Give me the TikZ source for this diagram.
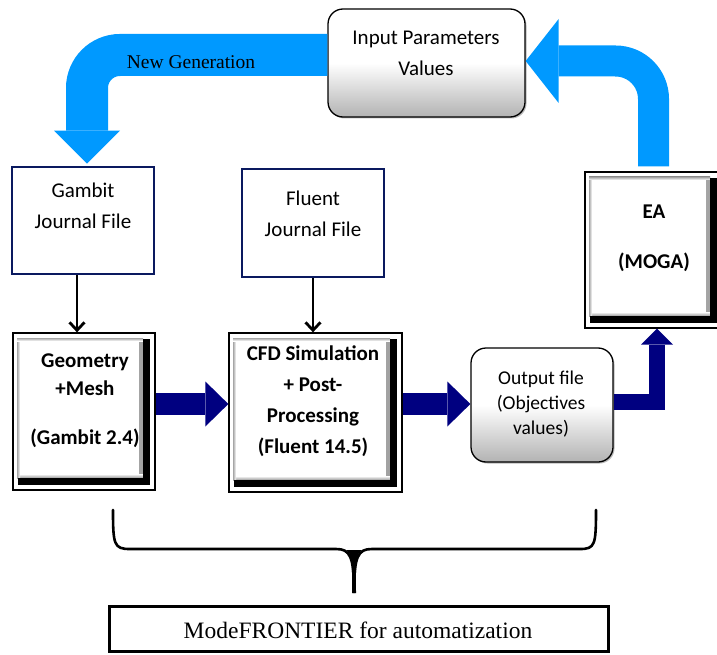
\documentclass[tikz,border=0pt]{standalone}
\usepackage{fontspec}
\setmainfont{Carlito}
\newfontfamily\timesf{Liberation Serif}
\usetikzlibrary{arrows.meta,calc,shadows}
\definecolor{skyarr}{RGB}{0,153,255}
\definecolor{navyarr}{RGB}{0,0,128}
\definecolor{boxblue}{RGB}{10,25,95}
\pgfdeclareverticalshading{btnshade}{100bp}{color(0bp)=(black!30); color(25bp)=(black!30); color(50bp)=(white); color(100bp)=(white)}
\tikzset{
  plainbox/.style={draw=boxblue, line width=2.6pt, fill=white},
  bevelbox/.style={draw=black, line width=1.3pt, fill=white,
    path picture={
      \shade[left color=white, right color=black!40]
        ([xshift=-16pt,yshift=12pt]path picture bounding box.south east) rectangle
        ([xshift=-12pt,yshift=-6pt]path picture bounding box.north east);
      \shade[top color=white, bottom color=black!40]
        ([xshift=5pt,yshift=12pt]path picture bounding box.south west) rectangle
        ([xshift=-12pt,yshift=16pt]path picture bounding box.south east);
      \shade[left color=black!35, right color=white]
        ([xshift=4pt,yshift=12pt]path picture bounding box.south west) rectangle
        ([xshift=7pt,yshift=-5pt]path picture bounding box.north west);
      \shade[top color=black!35, bottom color=white]
        ([xshift=4pt,yshift=-5pt]path picture bounding box.north west) rectangle
        ([xshift=-12pt,yshift=-8pt]path picture bounding box.north east);
      \fill[black]
        ([xshift=-12pt,yshift=5pt]path picture bounding box.south east) rectangle
        ([xshift=-5pt,yshift=-6pt]path picture bounding box.north east);
      \fill[black]
        ([xshift=5pt,yshift=5pt]path picture bounding box.south west) rectangle
        ([xshift=-5pt,yshift=12pt]path picture bounding box.south east);
    }},
  roundbox/.style={draw=black, line width=1.3pt, rounded corners=15pt,
    shade, shading=btnshade,
    drop shadow={shadow xshift=1.5pt, shadow yshift=-1.5pt, fill=black!55}},
  txt/.style={font=\fontsize{21}{31}\selectfont, align=center, inner sep=0pt},
  btxt/.style={font=\fontsize{21}{31}\selectfont\bfseries, align=center, inner sep=0pt},
  sertxt/.style={inner sep=0pt, font=\timesf\fontsize{19.5}{23}\selectfont},
  blackarr/.style={draw=black, line width=2.8pt, -{Straight Barb[length=8pt,width=15pt]}},
  navyline/.style={draw=navyarr, line width=22pt,
    -{Triangle[width=45pt,length=23pt,line width=0pt]}},
  navyelbow/.style={draw=navyarr, line width=16pt, line join=miter,
    -{Triangle[width=32pt,length=16pt,line width=0pt]}},
}
\begin{document}
\begin{tikzpicture}[x=1pt,y=-1pt]
\useasboundingbox (0,0) rectangle (717,655);

% boxes
\node[roundbox, minimum width=197pt, minimum height=108pt] (inp) at (426.5,63) {};
\node[plainbox, minimum width=142pt, minimum height=107pt] (gambit) at (83,220.5) {};
\node[plainbox, minimum width=142pt, minimum height=108pt] (fluent) at (313,223) {};
\node[bevelbox, minimum width=142pt, minimum height=157pt] (geom) at (84,411.5) {};
\node[bevelbox, minimum width=173pt, minimum height=159pt] (cfd) at (315.5,412.5) {};
\node[roundbox, minimum width=142pt, minimum height=114pt] (out) at (542,405) {};
\node[bevelbox, minimum width=137pt, minimum height=156pt] (ea) at (653.5,250) {};
\node[draw=black, line width=3pt, fill=white, minimum width=499pt, minimum height=45pt] (mf) at (358.5,628.5) {};

% texts
\node[txt] (inp-t) at (426,53) {Input Parameters\\Values};
\node[txt] (gambit-t) at (83,206) {Gambit\\Journal File};
\node[txt] (fluent-t) at (313,214) {Fluent\\Journal File};
\node[btxt, font=\fontsize{21}{28}\selectfont\bfseries] (geom-t) at (85,401) {Geometry\\+Mesh\\[21pt](Gambit 2.4)};
\node[btxt] (cfd-t) at (313,401) {CFD Simulation\\+ Post-\\Processing\\(Fluent 14.5)};
\node[txt, font=\fontsize{19.5}{25}\selectfont] (out-t) at (541,404) {Output file\\(Objectives\\values)};
\node[btxt] (ea-t) at (654,238) {EA\\[19pt](MOGA)};
\node[sertxt, font=\timesf\fontsize{23.5}{28}\selectfont] (mf-t) at (358,630) {ModeFRONTIER for automatization};

% light blue loop arrows
\draw[skyarr, line width=42pt, rounded corners=33pt,
  -{Triangle[width=66pt,length=33pt,line width=0pt]}]
  ([yshift=8pt]inp.west) -| ([xshift=4pt,yshift=2pt]gambit.north);
\draw[skyarr, line width=31pt, rounded corners=38pt,
  -{Triangle[width=84pt,length=33pt,line width=0pt]}]
  ([yshift=5pt]ea.north) |- ([yshift=2pt]inp.east);
\node[sertxt] (newgen) at (191,62) {New Generation};

% black arrows
\draw[blackarr] ([xshift=-6pt]gambit.south) -- ([xshift=-6pt]gambit.south |- geom.north);
\draw[blackarr] (fluent.south) -- (fluent.south |- cfd.north);

% navy arrows
\draw[navyline] ([yshift=7.5pt]geom.east) -- ([yshift=7.5pt]geom.east -| cfd.west);
\draw[navyline] ([yshift=8.5pt]cfd.east) -- ([yshift=8.5pt]cfd.east -| out.west);
\draw[navyelbow] ([yshift=3pt]out.east) -| ([xshift=3.5pt]ea.south);

% brace
\coordinate (brL) at (113,510);
\coordinate (brR) at (596,510);
\coordinate (brM) at (354,593);
\draw[line width=2.6pt, line cap=round]
  (brL) .. controls (113,545) and (114,549) .. (130,549) -- (336,549)
  .. controls (350,549) and (354,556) .. (brM)
  .. controls (354,556) and (358,549) .. (372,549) -- (580,549)
  .. controls (595,549) and (596,545) .. (brR);
\fill (346,550) .. controls (353,553) and (352,570) .. (352,593) -- (356,593)
  .. controls (356,570) and (355,553) .. (362,550) -- cycle;
\end{tikzpicture}
\end{document}
